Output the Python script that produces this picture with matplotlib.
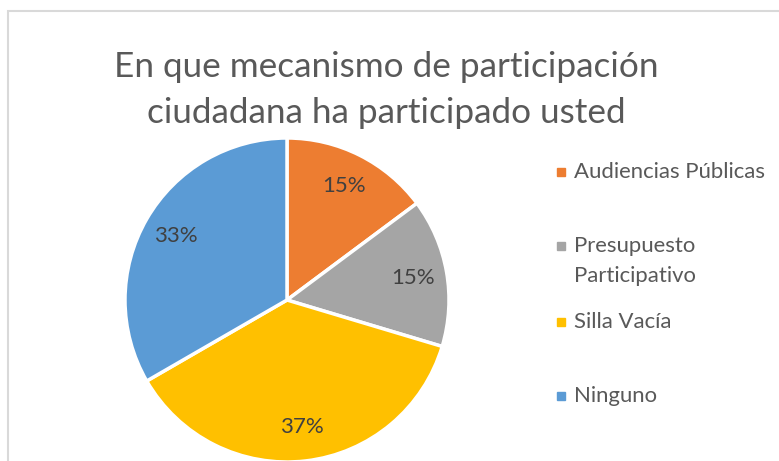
import matplotlib
matplotlib.use("Agg")
from matplotlib import pyplot as plt
from matplotlib.patches import Rectangle

# chart data
categories = ["Audiencias Públicas", "Presupuesto\nParticipativo", "Silla Vacía", "Ninguno"]
counts = [4, 4, 10, 9]
colors = ["#ED7D31", "#A5A5A5", "#FFC000", "#5B9BD5"]
title_lines = ["En que mecanismo de participación", "ciudadana ha participado usted"]

plt.rcParams['font.family'] = ['Lato', 'DejaVu Sans']

W, H = 779, 461
fig = plt.figure(figsize=(W / 100, H / 100), dpi=100)
ax = fig.add_axes([0, 0, 1, 1])

# chart area frame (only top and left visible)
ax.add_patch(Rectangle((8, -10), 800, H - 11 + 10, fill=False,
                       edgecolor="#D9D9D9", linewidth=1.5))

wedges, texts, autotexts = ax.pie(
    counts, colors=colors, startangle=90, counterclock=False,
    center=(287, H - 300), radius=162, frame=True,
    autopct=lambda p: "%d%%" % round(p), pctdistance=0.79,
    wedgeprops=dict(edgecolor="white", linewidth=2.5),
    textprops=dict(color="#404040", fontsize=16))

# title, one line at a time
for i, line in enumerate(title_lines):
    ax.text(386, H - 77 - i * 46, line, ha="center", va="baseline",
            fontsize=25.3, color="#595959")

# legend
leg_y = [172, 246, 322, 396]
for lab, col, y in zip(categories, colors, leg_y):
    ax.plot([561], [H - y], marker="s", markersize=6, color=col, linestyle="none")
    for j, part in enumerate(lab.split("\n")):
        ax.text(574, H - y - 6 - j * 30, part, ha="left", va="baseline",
                fontsize=15.9, color="#595959")

ax.set_xlim(0, W)
ax.set_ylim(0, H)
ax.set_aspect("equal")
ax.axis("off")

fig.savefig("out.png", dpi=100)
